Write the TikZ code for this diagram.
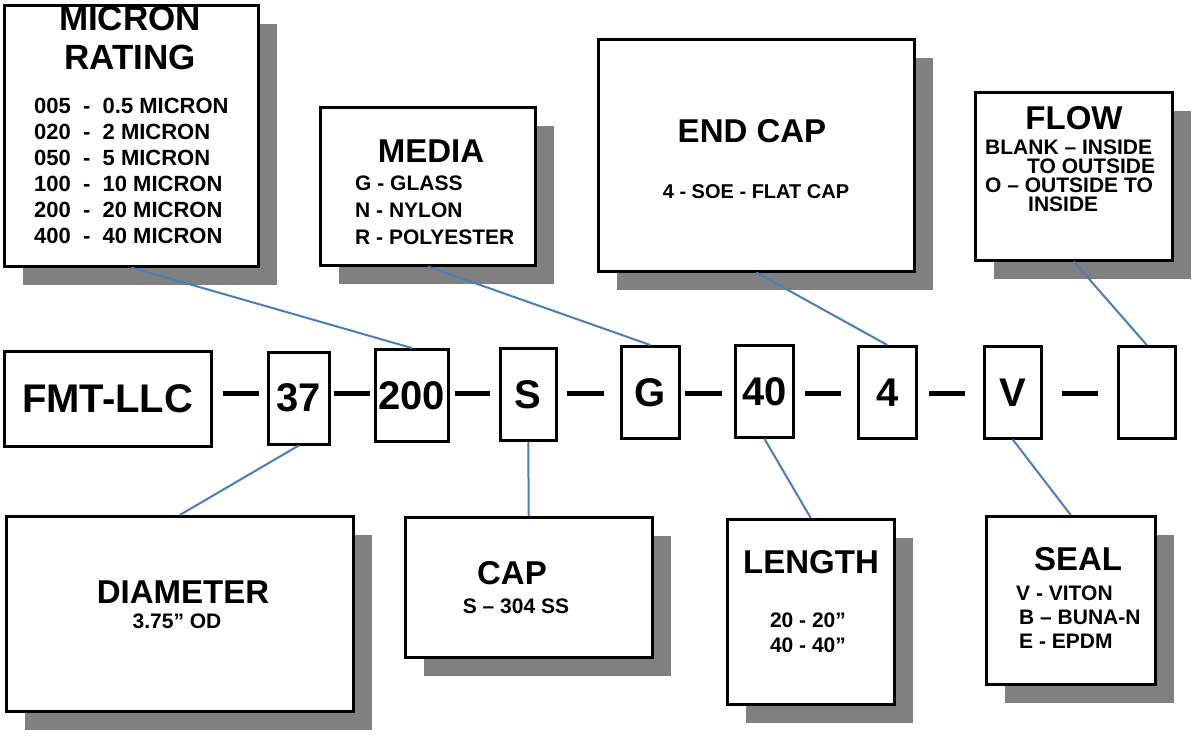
\documentclass[tikz,border=0pt]{standalone}
\usepackage{fontspec}
\setmainfont{Liberation Sans}
\usetikzlibrary{shadows, positioning}
\definecolor{linkblue}{RGB}{74,126,187}
\tikzset{
box/.style={draw, line width=2.5pt, fill=white, anchor=north west, drop shadow={shadow xshift=19pt, shadow yshift=-19pt, fill=black!50, opacity=1}}, % option boxes with grey shadow
code/.style={draw, line width=2.5pt, anchor=north west, minimum height=92pt, inner sep=0pt, font=\bfseries\fontsize{40}{44}\selectfont}, % part number boxes
head/.style={inner sep=0pt, align=center, font=\bfseries\fontsize{33}{39}\selectfont},
list/.style={inner sep=0pt, font=\bfseries\fontsize{21}{26}\selectfont},
link/.style={draw=linkblue, line width=2pt},
sep/.style={line width=5pt},
}
\begin{document}
\begin{tikzpicture}[x=1pt, y=-1pt]
    \fill[white] (0,0) rectangle (1192,739);
    \useasboundingbox (0,0) rectangle (1192,739);

    % option boxes, top row
    \node[box, minimum width=254pt, minimum height=261pt] (micron) at (3,4) {};
    \node[head, font=\bfseries\fontsize{35}{39}\selectfont, anchor=north] (microntitle) at (130,6) {MICRON\\RATING};
    \node[list, align=left, anchor=north west, font=\bfseries\fontsize{22}{26}\selectfont] (micronlist) at (34,98) {005~~-~~0.5 MICRON\\020~~-~~2 MICRON\\050~~-~~5 MICRON\\100~~-~~10 MICRON\\200~~-~~20 MICRON\\400~~-~~40 MICRON};

    \node[box, minimum width=215pt, minimum height=158pt] (media) at (319,106) {};
    \node[head, anchor=base] (mediatitle) at (431,162) {MEDIA};
    \node[list, align=left, anchor=north west, font=\bfseries\fontsize{21}{27}\selectfont] (medialist) at (355,176) {G - GLASS\\N - NYLON\\R - POLYESTER};

    \node[box, minimum width=316pt, minimum height=232pt] (endcap) at (597,38) {};
    \node[head, anchor=base] (endcaptitle) at (752,142) {END CAP};
    \node[list, anchor=base, font=\bfseries\fontsize{20}{24}\selectfont] (endcaplist) at (756,198) {4 - SOE - FLAT CAP};

    \node[box, minimum width=197pt, minimum height=168pt] (flow) at (974,91) {};
    \node[head, anchor=base] (flowtitle) at (1074,129) {FLOW};
    \node[list, align=left, anchor=north west, font=\bfseries\fontsize{21}{19}\selectfont] (flowlist) at (985,140) {BLANK – INSIDE\\\hspace*{42pt}TO OUTSIDE\\O – OUTSIDE TO\\\hspace*{43pt}INSIDE};

    % part number
    \node[code, minimum width=207pt, minimum height=95pt] (fmt) at (3,350) {FMT-LLC};
    \node[code, minimum width=61pt] (n37) at (267,351) {37};
    \node[code, minimum width=73pt] (n200) at (374,348) {200};
    \node[code, minimum width=56pt] (ns) at (499,347) {S};
    \node[code, minimum width=58pt] (ng) at (620,345) {G};
    \node[code, minimum width=58pt] (n40) at (734,344) {40};
    \node[code, minimum width=58pt] (n4) at (857,345) {4};
    \node[code, minimum width=57pt] (nv) at (983,345) {V};
    \node[code, minimum width=57pt] (nblank) at (1117,345) {};

    \foreach \a/\b in {223/259, 334/370, 455/490, 567/604, 685/722, 805/841, 929/965, 1062/1098}
        \draw[sep] (\a,393) -- (\b,393);

    % option boxes, bottom row
    \node[box, minimum width=347pt, minimum height=195pt] (diameter) at (5,515) {};
    \node[head, anchor=base] (diametertitle) at (183,603) {DIAMETER};
    \node[list, anchor=base] (diameterlist) at (177,628) {3.75” OD};

    \node[box, minimum width=247pt, minimum height=140pt] (cap) at (404,516) {};
    \node[head, anchor=base] (captitle) at (512,584) {CAP};
    \node[list, anchor=base] (caplist) at (516,613) {S – 304 SS};

    \node[box, minimum width=167pt, minimum height=185pt] (length) at (726,518) {};
    \node[head, anchor=base] (lengthtitle) at (811,573) {LENGTH};
    \node[list, align=center, anchor=north, font=\bfseries\fontsize{21}{25}\selectfont] (lengthlist) at (808,613) {20 - 20”\\40 - 40”};

    \node[box, minimum width=169pt, minimum height=168pt] (seal) at (985,515) {};
    \node[head, anchor=base] (sealtitle) at (1078,570) {SEAL};
    \node[list, align=left, anchor=north west, font=\bfseries\fontsize{21}{24}\selectfont] (seallist) at (1016,586) {V - VITON\\\hspace*{3pt}B – BUNA-N\\\hspace*{3pt}E - EPDM};

    % leader lines
    \draw[link] (micron.south) -- (n200.north);
    \draw[link] (media.south) -- (ng.north);
    \draw[link] (endcap.south) -- (n4.north);
    \draw[link] (flow.south) -- (nblank.north);
    \draw[link] (n37.south) -- (diameter.north);
    \draw[link] (ns.south) -- (cap.north);
    \draw[link] (n40.south) -- (length.north);
    \draw[link] (nv.south) -- (seal.north);
\end{tikzpicture}
\end{document}
